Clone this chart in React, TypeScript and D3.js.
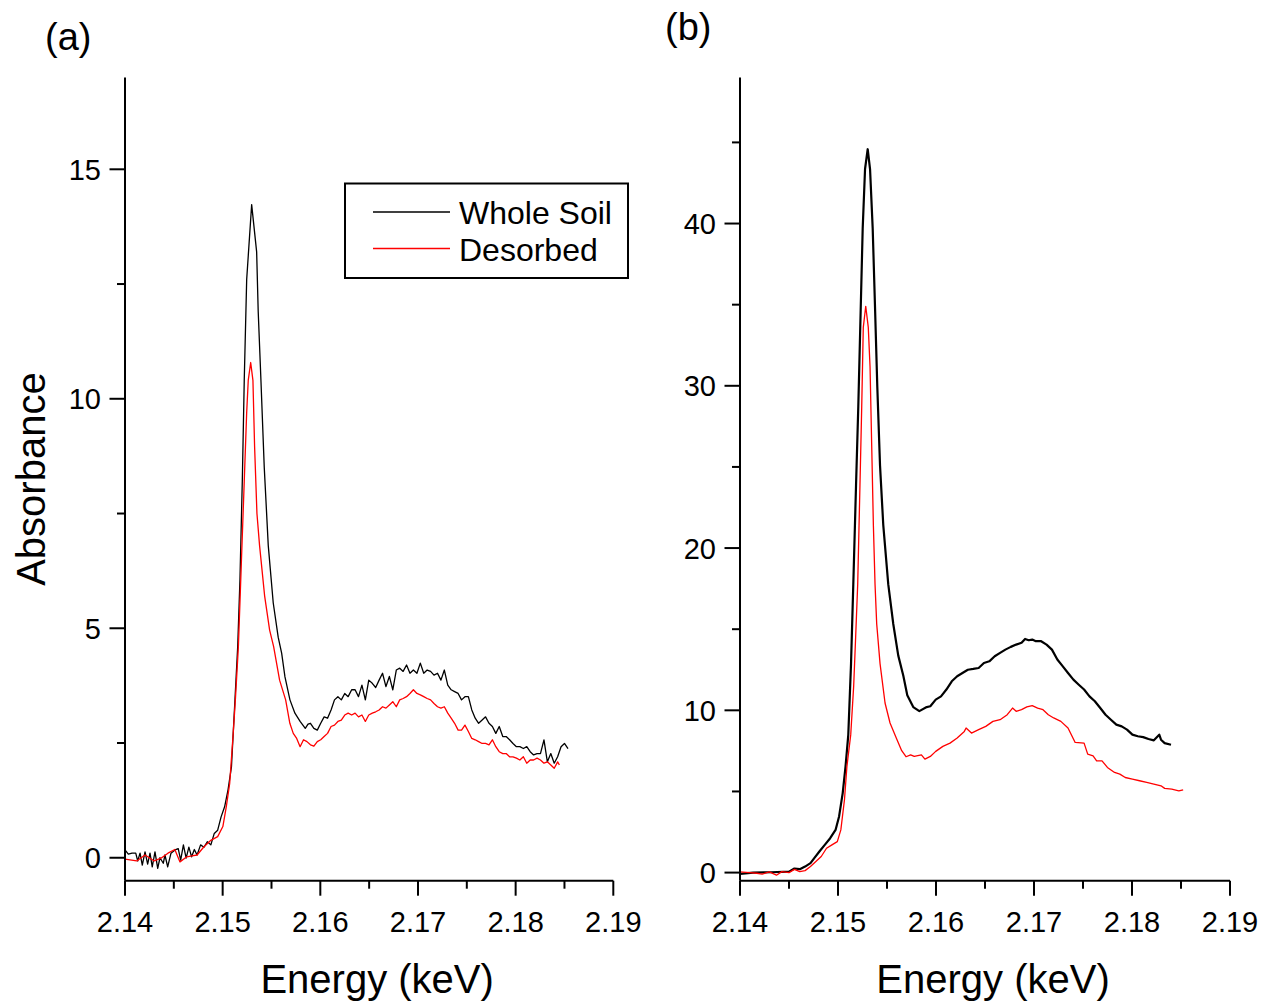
import React from "react";
import * as d3 from "d3";

// ---------- DATA ----------
const xTickLabels = [2.14, 2.15, 2.16, 2.17, 2.18, 2.19];
const xMinorTicks = [2.145, 2.155, 2.165, 2.175, 2.185];
const yTicksA = [0, 5, 10, 15];
const yMinorA = [2.5, 7.5, 12.5];
const yTicksB = [0, 10, 20, 30, 40];
const yMinorB = [5, 15, 25, 35, 45];
const seriesNames = ["Whole Soil", "Desorbed"];

const wholeSoilA: [number, number][] = [
  [2.14, 0.17], [2.14034, 0.08], [2.14072, 0.1], [2.1411, 0.1], [2.1413, -0.07], [2.14154, 0.1],
  [2.14177, -0.16], [2.14205, 0.13], [2.14232, -0.14], [2.14256, 0.1], [2.14279, -0.2], [2.14307, 0.13],
  [2.14335, -0.23], [2.14358, 0.0], [2.14392, -0.12], [2.14409, 0.06], [2.14437, -0.2], [2.14471, 0.1],
  [2.14512, 0.17], [2.14545, 0.2], [2.1457, -0.05], [2.14598, 0.28], [2.14626, -0.01], [2.14654, 0.23],
  [2.14682, 0.02], [2.1471, 0.18], [2.14738, 0.06], [2.14774, 0.28], [2.14809, 0.23], [2.14844, 0.35],
  [2.14879, 0.28], [2.14914, 0.53], [2.14949, 0.6], [2.14984, 0.89], [2.1502, 1.11], [2.15055, 1.48],
  [2.1509, 1.98], [2.15126, 3.44], [2.15154, 4.6], [2.15177, 6.05], [2.15201, 8.2], [2.15221, 10.4],
  [2.15246, 12.6], [2.15297, 14.23], [2.15348, 13.2], [2.15364, 11.9], [2.15392, 10.4], [2.15426, 8.5],
  [2.15467, 6.8], [2.15518, 5.55], [2.15569, 4.8], [2.15604, 4.46], [2.15638, 3.94], [2.15689, 3.44],
  [2.1574, 3.15], [2.15793, 2.97], [2.15846, 2.82], [2.15874, 2.91], [2.15899, 2.93], [2.15934, 2.82],
  [2.15969, 2.78], [2.16004, 2.93], [2.16039, 3.07], [2.16074, 3.04], [2.1611, 3.22], [2.16145, 3.44],
  [2.1618, 3.51], [2.16215, 3.44], [2.1625, 3.58], [2.16285, 3.51], [2.16321, 3.66], [2.16356, 3.66],
  [2.16391, 3.51], [2.16426, 3.76], [2.16461, 3.44], [2.16496, 3.87], [2.16532, 3.8], [2.16567, 3.71],
  [2.16602, 3.87], [2.16637, 4.02], [2.16672, 3.73], [2.16707, 3.95], [2.16742, 3.66], [2.16778, 4.09],
  [2.16813, 4.13], [2.16848, 4.06], [2.16883, 4.2], [2.16918, 4.02], [2.16953, 4.09], [2.16989, 4.02],
  [2.17024, 4.24], [2.17059, 4.02], [2.17094, 4.09], [2.17129, 4.06], [2.17164, 3.98], [2.172, 4.02],
  [2.17235, 3.87], [2.1727, 4.09], [2.17305, 3.76], [2.1734, 3.66], [2.17375, 3.62], [2.17411, 3.58],
  [2.17446, 3.44], [2.17481, 3.51], [2.17516, 3.51], [2.17551, 3.22], [2.17586, 3.04], [2.17621, 2.93],
  [2.17657, 3.0], [2.17692, 3.07], [2.17727, 2.93], [2.17762, 2.86], [2.17797, 2.71], [2.17832, 2.86],
  [2.17868, 2.64], [2.17903, 2.64], [2.17938, 2.57], [2.17973, 2.49], [2.18008, 2.42], [2.18043, 2.42],
  [2.18079, 2.38], [2.18114, 2.42], [2.18149, 2.31], [2.18184, 2.24], [2.18219, 2.27], [2.18254, 2.27],
  [2.1829, 2.57], [2.18325, 2.09], [2.1836, 2.27], [2.18395, 2.06], [2.1843, 2.2], [2.18465, 2.42],
  [2.185, 2.49], [2.18536, 2.38],
];

const desorbedA: [number, number][] = [
  [2.14, -0.03], [2.1412, -0.07], [2.14205, 0.06], [2.143, -0.07], [2.14368, -0.01], [2.1444, 0.1],
  [2.1451, 0.18], [2.14563, -0.09], [2.14633, 0.02], [2.14686, 0.04], [2.14738, 0.06], [2.14809, 0.24],
  [2.14879, 0.38], [2.14949, 0.46], [2.15002, 0.68], [2.15037, 1.11], [2.15072, 1.62], [2.15108, 2.71],
  [2.1513, 3.44], [2.15161, 4.6], [2.15191, 6.4], [2.15221, 8.2], [2.15246, 9.7], [2.15262, 10.4],
  [2.15287, 10.79], [2.1531, 10.4], [2.15327, 8.96], [2.15351, 7.5], [2.15378, 6.8], [2.1543, 5.7],
  [2.15481, 4.96], [2.15522, 4.6], [2.15583, 3.87], [2.15645, 3.44], [2.15688, 2.93], [2.15723, 2.71],
  [2.15758, 2.6], [2.15793, 2.42], [2.15828, 2.57], [2.15863, 2.53], [2.15899, 2.46], [2.15934, 2.43],
  [2.15969, 2.53], [2.16004, 2.57], [2.16039, 2.64], [2.16074, 2.71], [2.1611, 2.86], [2.16145, 2.89],
  [2.1618, 2.97], [2.16215, 3.0], [2.1625, 3.11], [2.16285, 3.15], [2.16321, 3.11], [2.16356, 3.15],
  [2.16391, 3.07], [2.16426, 3.11], [2.16461, 2.97], [2.16496, 3.11], [2.16532, 3.15], [2.16567, 3.18],
  [2.16602, 3.22], [2.16637, 3.29], [2.16672, 3.26], [2.16707, 3.33], [2.16742, 3.4], [2.16778, 3.29],
  [2.16813, 3.44], [2.16848, 3.47], [2.16883, 3.51], [2.16918, 3.58], [2.16953, 3.66], [2.16989, 3.58],
  [2.17024, 3.55], [2.17059, 3.51], [2.17094, 3.47], [2.17129, 3.44], [2.17164, 3.36], [2.172, 3.29],
  [2.17235, 3.26], [2.1727, 3.29], [2.17305, 3.15], [2.1734, 3.04], [2.17375, 2.93], [2.17411, 2.78],
  [2.17446, 2.78], [2.17481, 2.89], [2.17516, 2.75], [2.17551, 2.6], [2.17586, 2.57], [2.17621, 2.53],
  [2.17657, 2.49], [2.17692, 2.49], [2.17727, 2.46], [2.17762, 2.57], [2.17797, 2.42], [2.17832, 2.31],
  [2.17868, 2.27], [2.17903, 2.27], [2.17938, 2.2], [2.17973, 2.2], [2.18008, 2.17], [2.18043, 2.13],
  [2.18079, 2.2], [2.18114, 2.06], [2.18149, 2.13], [2.18184, 2.13], [2.18219, 2.17], [2.18254, 2.13],
  [2.1829, 2.06], [2.18325, 2.09], [2.1836, 2.02], [2.18395, 1.95], [2.1843, 2.09], [2.18448, 2.02],
];

const wholeSoilB: [number, number][] = [
  [2.14, -0.08], [2.14135, 0.0], [2.14318, 0.02], [2.145, 0.06], [2.14555, 0.25], [2.1461, 0.21],
  [2.14664, 0.37], [2.14719, 0.58], [2.14756, 0.88], [2.1481, 1.3], [2.14865, 1.71], [2.1492, 2.12],
  [2.14975, 2.63], [2.15011, 3.46], [2.15048, 4.9], [2.15077, 6.54], [2.15105, 8.49], [2.15133, 12.88],
  [2.15156, 17.76], [2.15184, 23.85], [2.15207, 28.7], [2.15232, 34.8], [2.15252, 39.7], [2.15276, 43.36],
  [2.15303, 44.58], [2.15327, 43.36], [2.15354, 39.7], [2.15378, 34.8], [2.15401, 29.95], [2.15429, 25.07],
  [2.15462, 21.41], [2.15513, 17.76], [2.15564, 15.32], [2.15615, 13.37], [2.15666, 12.15], [2.15707, 10.93],
  [2.15768, 10.2], [2.1583, 9.95], [2.15905, 10.2], [2.15942, 10.25], [2.15997, 10.66], [2.16051, 10.86],
  [2.16106, 11.28], [2.16161, 11.79], [2.16216, 12.1], [2.1627, 12.3], [2.16325, 12.5], [2.1638, 12.55],
  [2.16435, 12.61], [2.16489, 12.92], [2.16544, 13.02], [2.16599, 13.33], [2.16654, 13.54], [2.16708, 13.74],
  [2.16763, 13.91], [2.16818, 14.05], [2.16873, 14.16], [2.16909, 14.4], [2.16946, 14.32], [2.16982, 14.36],
  [2.17019, 14.26], [2.17073, 14.26], [2.17128, 14.05], [2.17183, 13.74], [2.17238, 13.13], [2.17292, 12.72],
  [2.17347, 12.3], [2.17402, 11.89], [2.17457, 11.58], [2.17511, 11.28], [2.17566, 10.86], [2.17621, 10.56],
  [2.17676, 10.14], [2.1773, 9.73], [2.17785, 9.42], [2.1784, 9.12], [2.17895, 9.01], [2.17949, 8.81],
  [2.18004, 8.5], [2.18059, 8.4], [2.18114, 8.35], [2.18168, 8.23], [2.18223, 8.15], [2.18278, 8.5],
  [2.18296, 8.19], [2.18333, 7.98], [2.18398, 7.88],
];

const desorbedB: [number, number][] = [
  [2.14, 0.04], [2.14099, 0.0], [2.14172, -0.04], [2.14226, -0.1], [2.14299, 0.04], [2.14372, -0.16],
  [2.14427, 0.06], [2.145, 0.0], [2.14555, 0.2], [2.1461, 0.06], [2.14664, 0.12], [2.14719, 0.37],
  [2.14774, 0.68], [2.14829, 0.99], [2.14883, 1.5], [2.14938, 1.71], [2.14993, 1.91], [2.15029, 2.63],
  [2.15066, 4.49], [2.15091, 6.54], [2.1513, 8.5], [2.1516, 11.5], [2.1518, 14.5], [2.15201, 17.76],
  [2.15224, 23.85], [2.15242, 28.7], [2.15258, 33.6], [2.15283, 34.9], [2.15309, 33.6], [2.15327, 31.16],
  [2.15344, 26.29], [2.15361, 21.41], [2.15378, 17.76], [2.15395, 15.32], [2.15429, 12.88], [2.1548, 10.45],
  [2.15531, 9.22], [2.15599, 8.24], [2.1565, 7.51], [2.15694, 7.14], [2.15741, 7.26], [2.15778, 7.16],
  [2.15851, 7.26], [2.15887, 6.99], [2.15942, 7.16], [2.15997, 7.47], [2.1607, 7.78], [2.16143, 7.98],
  [2.16216, 8.29], [2.16289, 8.7], [2.16307, 8.91], [2.16362, 8.6], [2.16435, 8.81], [2.16508, 9.01],
  [2.16581, 9.32], [2.16654, 9.42], [2.16727, 9.73], [2.16781, 10.14], [2.16818, 9.94], [2.16873, 10.04],
  [2.16927, 10.21], [2.16982, 10.29], [2.17037, 10.14], [2.17092, 10.04], [2.17146, 9.73], [2.17201, 9.53],
  [2.17274, 9.32], [2.17347, 8.91], [2.1742, 8.02], [2.17511, 7.98], [2.17548, 7.3], [2.17603, 7.2],
  [2.17639, 6.89], [2.17694, 6.89], [2.17749, 6.48], [2.17822, 6.17], [2.17876, 6.07], [2.17931, 5.86],
  [2.18004, 5.76], [2.18077, 5.66], [2.1815, 5.56], [2.18223, 5.45], [2.18296, 5.35], [2.18333, 5.19],
  [2.18406, 5.14], [2.18478, 5.04], [2.18522, 5.1],
];

// ---------- CHART ----------
const FONT = "'Liberation Sans', Arial, Helvetica, sans-serif";

type PanelProps = {
  x0: number;
  x1: number;
  yDomain: [number, number];
  majors: number[];
  minors: number[];
  black: [number, number][];
  red: [number, number][];
  blackWidth: number;
  redWidth: number;
  label: string;
  labelX: number;
  labelY: number;
  showYTitle: boolean;
  showLegend: boolean;
};

const TOP = 77.5;
const BOTTOM = 880.7;

function Panel(p: PanelProps) {
  const x = d3.scaleLinear().domain([2.14, 2.19]).range([p.x0, p.x1]);
  const y = d3.scaleLinear().domain(p.yDomain).range([BOTTOM, TOP]);
  const line = d3
    .line<[number, number]>()
    .x((d) => x(d[0]))
    .y((d) => y(d[1]));
  return (
    <g>
      {/* data */}
      <path d={line(p.black) || ""} fill="none" stroke="#000" strokeWidth={p.blackWidth} strokeLinejoin="round" />
      <path d={line(p.red) || ""} fill="none" stroke="#ff0000" strokeWidth={p.redWidth} strokeLinejoin="round" />
      {/* axes */}
      <line x1={p.x0} x2={p.x0} y1={TOP} y2={BOTTOM} stroke="#000" strokeWidth={2} />
      <line x1={p.x0} x2={p.x1} y1={BOTTOM} y2={BOTTOM} stroke="#000" strokeWidth={2} />
      {p.majors.map((t) => (
        <g key={"ym" + t}>
          <line x1={p.x0 - 15.5} x2={p.x0} y1={y(t)} y2={y(t)} stroke="#000" strokeWidth={2} />
          <text x={p.x0 - 24} y={y(t) + 10.5} textAnchor="end" fontSize={29} fontFamily={FONT}>
            {t}
          </text>
        </g>
      ))}
      {p.minors.map((t) => (
        <line key={"yn" + t} x1={p.x0 - 8} x2={p.x0} y1={y(t)} y2={y(t)} stroke="#000" strokeWidth={2} />
      ))}
      {xTickLabels.map((t) => (
        <g key={"xm" + t}>
          <line x1={x(t)} x2={x(t)} y1={BOTTOM} y2={BOTTOM + 15} stroke="#000" strokeWidth={2} />
          <text x={x(t)} y={932} textAnchor="middle" fontSize={29} fontFamily={FONT}>
            {t.toFixed(2)}
          </text>
        </g>
      ))}
      {xMinorTicks.map((t) => (
        <line key={"xn" + t} x1={x(t)} x2={x(t)} y1={BOTTOM} y2={BOTTOM + 8} stroke="#000" strokeWidth={2} />
      ))}
      <text x={(p.x0 + p.x1) / 2 + 8} y={993} textAnchor="middle" fontSize={40} fontFamily={FONT}>
        Energy (keV)
      </text>
      {p.showYTitle && (
        <text
          transform={`translate(45, ${(TOP + BOTTOM) / 2}) rotate(-90)`}
          textAnchor="middle"
          fontSize={40}
          fontFamily={FONT}
        >
          Absorbance
        </text>
      )}
      <text x={p.labelX} y={p.labelY} fontSize={38} fontFamily={FONT}>
        {p.label}
      </text>
      {p.showLegend && (
        <g>
          <rect x={345} y={183.5} width={283} height={94.5} fill="#fff" stroke="#000" strokeWidth={2} />
          <line x1={373} x2={450} y1={212} y2={212} stroke="#000" strokeWidth={1.3} />
          <line x1={373} x2={450} y1={248.5} y2={248.5} stroke="#ff0000" strokeWidth={1.3} />
          <text x={459} y={224} fontSize={32} fontFamily={FONT}>
            {seriesNames[0]}
          </text>
          <text x={459} y={261} fontSize={32} fontFamily={FONT}>
            {seriesNames[1]}
          </text>
        </g>
      )}
    </g>
  );
}

export default function App() {
  return (
    <svg
      width={1267}
      height={1002}
      viewBox="0 0 1267 1002"
      style={{ position: "absolute", left: 0, top: 0, background: "#fff" }}
    >
      <rect x={0} y={0} width={1267} height={1002} fill="#fff" />
      <Panel
        x0={125}
        x1={613.3}
        yDomain={[-0.5, 17]}
        majors={yTicksA}
        minors={yMinorA}
        black={wholeSoilA}
        red={desorbedA}
        blackWidth={1.3}
        redWidth={1.3}
        label="(a)"
        labelX={45}
        labelY={50}
        showYTitle={true}
        showLegend={true}
      />
      <Panel
        x0={740}
        x1={1230}
        yDomain={[-0.5, 49]}
        majors={yTicksB}
        minors={yMinorB}
        black={wholeSoilB}
        red={desorbedB}
        blackWidth={2.2}
        redWidth={1.3}
        label="(b)"
        labelX={665}
        labelY={40}
        showYTitle={false}
        showLegend={false}
      />
    </svg>
  );
}
